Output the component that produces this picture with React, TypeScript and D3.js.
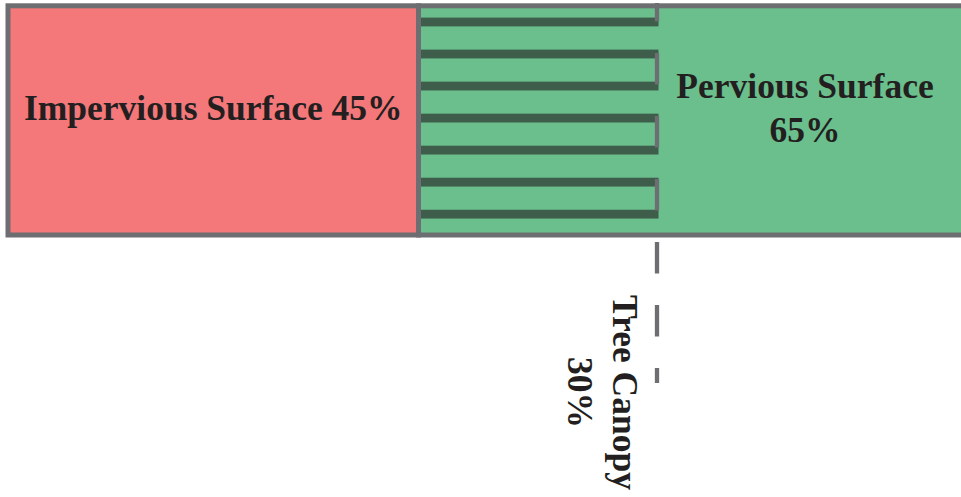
import React from "react";
import * as d3 from "d3";

// ---- data ----
const categories = ["Impervious Surface", "Pervious Surface"];
const values = [45, 65];
const canopyLabel = ["Tree Canopy", "30%"];
const canopyValue = 30;
const stripeCount = 7;

const W = 961;
const H = 497;

const COLORS = {
  impervious: "#f47779",
  pervious: "#6bbf8d",
  stripe: "#3e5d4b",
  border: "#6d6e71",
  text: "#231f20",
};

export default function App() {
  const total = values[0] + values[1];
  const canopyEnd = values[0] + canopyValue;
  // The figure is schematic (not to scale): piecewise linear scale
  const x = d3
    .scaleLinear()
    .domain([0, values[0], canopyEnd, total])
    .range([8, 418.5, 657, 968]);
  const y0 = 5.8;
  const y1 = 235;
  const bw = 5;
  const inner = d3
    .scaleBand<number>()
    .domain(d3.range(stripeCount))
    .range([y0 + bw / 2, y1 - bw / 2])
    .paddingInner(0)
    .paddingOuter(0);

  const fs = 35.5;
  const font = "'Liberation Serif', 'Times New Roman', serif";

  const segs = [
    { start: 0, end: values[0], fill: COLORS.impervious },
    { start: values[0], end: total, fill: COLORS.pervious },
  ];

  const midImp = (x(0) + x(values[0])) / 2;
  const midPerv = (x(canopyEnd) + 953) / 2;

  return (
    <svg
      width={W}
      height={H}
      style={{ position: "absolute", left: 0, top: 0, background: "#fff" }}
    >
      {segs.map((s, i) => (
        <rect
          key={i}
          x={x(s.start)}
          y={y0}
          width={x(s.end) - x(s.start)}
          height={y1 - y0}
          fill={s.fill}
        />
      ))}
      {/* canopy stripes */}
      {d3.range(stripeCount).map((i) => (
        <rect
          key={"st" + i}
          x={x(values[0])}
          y={(inner(i) as number) + inner.bandwidth() * 0.29}
          width={x(canopyEnd) + 1.5 - x(values[0])}
          height={inner.bandwidth() * 0.275}
          fill={COLORS.stripe}
        />
      ))}
      {/* borders */}
      {segs.map((s, i) => (
        <rect
          key={"b" + i}
          x={x(s.start)}
          y={y0}
          width={x(s.end) - x(s.start)}
          height={y1 - y0}
          fill="none"
          stroke={COLORS.border}
          strokeWidth={bw}
        />
      ))}
      {/* dashed canopy marker */}
      <line
        x1={x(canopyEnd)}
        x2={x(canopyEnd)}
        y1={3}
        y2={383}
        stroke={COLORS.border}
        strokeWidth={4.3}
        strokeDasharray="31.5 31.5"
        strokeDashoffset={13}
      />
      {/* labels */}
      <text
        x={midImp}
        y={120}
        textAnchor="middle"
        fontFamily={font}
        fontWeight="bold"
        fontSize={fs}
        fill={COLORS.text}
      >
        {`${categories[0]} ${values[0]}%`}
      </text>
      <text
        x={midPerv}
        y={97.5}
        textAnchor="middle"
        fontFamily={font}
        fontWeight="bold"
        fontSize={fs}
        fill={COLORS.text}
      >
        <tspan x={midPerv} dy={0}>
          {categories[1]}
        </tspan>
        <tspan x={midPerv} dy={44.5}>
          {`${values[1]}%`}
        </tspan>
      </text>
      <text
        transform={`translate(${x(canopyEnd) - 44},392.5) rotate(90)`}
        textAnchor="middle"
        fontFamily={font}
        fontWeight="bold"
        fontSize={fs}
        fill={COLORS.text}
      >
        <tspan x={0} dy={0}>
          {canopyLabel[0]}
        </tspan>
        <tspan x={0} dy={45}>
          {canopyLabel[1]}
        </tspan>
      </text>
    </svg>
  );
}
